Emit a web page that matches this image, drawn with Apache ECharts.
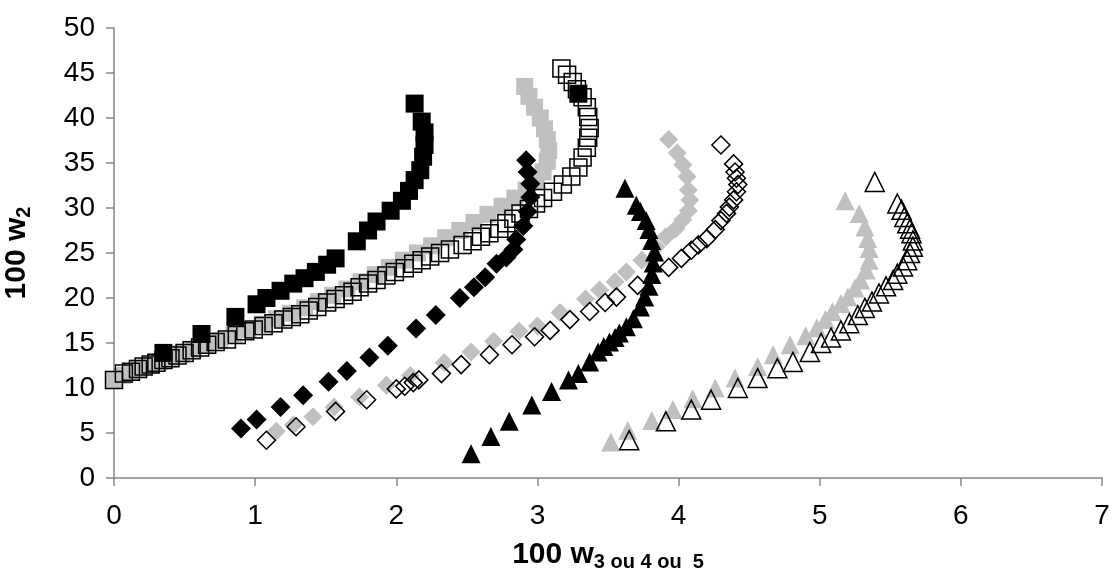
<!DOCTYPE html>
<html>
<head>
<meta charset="utf-8">
<title>100 w2 vs 100 w3/4/5</title>
<script src="https://cdn.jsdelivr.net/npm/echarts@6/dist/echarts.min.js"></script>
<style>
  html, body { margin: 0; padding: 0; background: #ffffff; }
  #chart { width: 1111px; height: 581px; }
</style>
</head>
<body>
<div id="chart"></div>
<script>
// Axis ticks
const xTicks = { min: 0, max: 7, step: 1 };
const yTicks = { min: 0, max: 50, step: 5 };

// Squares
const blackSquares = [
  [0.35,13.9],[0.62,16.0],[0.86,17.9],[1.01,19.3],[1.08,20.0],[1.18,20.8],[1.27,21.6],
  [1.35,22.2],[1.43,22.9],[1.51,23.7],[1.57,24.4],[1.72,26.3],[1.80,27.5],[1.86,28.5],
  [1.96,29.7],[2.04,30.8],[2.09,31.9],[2.13,33.1],[2.17,34.2],[2.19,35.7],[2.20,37.0],
  [2.20,38.4],[2.18,39.6],[2.13,41.6],[3.29,42.7]
];
const greySquares = [
  [0.00,10.9],[0.06,11.4],[0.12,11.8],[0.18,12.2],[0.25,12.5],[0.32,12.9],[0.40,13.3],
  [0.48,13.8],[0.56,14.3],[0.65,14.8],[0.75,15.3],[0.85,15.9],[0.95,16.5],[1.05,17.1],
  [1.15,17.7],[1.25,18.3],[1.35,18.9],[1.45,19.6],[1.55,20.3],[1.65,21.0],[1.75,21.8],
  [1.85,22.6],[1.95,23.4],[2.05,24.2],[2.15,25.0],[2.25,25.8],[2.35,26.7],[2.45,27.5],
  [2.55,28.4],[2.65,29.3],[2.75,30.2],[2.84,31.1],[2.92,32.0],[2.99,32.9],[3.04,34.0],
  [3.07,35.2],[3.08,36.4],[3.07,37.6],[3.05,38.8],[3.02,40.0],[2.98,41.2],[2.94,42.4],
  [2.91,43.5]
];
const openSquares = [
  [0.00,10.9],[0.07,11.6],[0.12,11.8],[0.17,12.1],[0.21,12.4],[0.26,12.6],[0.30,12.8],
  [0.35,13.1],[0.40,13.3],[0.45,13.6],[0.50,13.9],[0.55,14.2],[0.61,14.5],[0.66,14.8],
  [0.72,15.1],[0.80,15.4],[0.87,15.9],[0.93,16.3],[0.99,16.5],[1.06,16.9],[1.13,17.2],
  [1.20,17.6],[1.26,17.9],[1.32,18.2],[1.38,18.6],[1.44,19.0],[1.51,19.5],[1.57,19.9],
  [1.63,20.3],[1.69,20.7],[1.74,21.2],[1.80,21.6],[1.86,22.0],[1.93,22.5],[1.99,22.9],
  [2.06,23.3],[2.12,23.8],[2.18,24.2],[2.24,24.6],[2.31,25.0],[2.38,25.4],[2.47,25.9],
  [2.54,26.3],[2.60,26.8],[2.66,27.2],[2.73,27.7],[2.78,28.3],[2.83,28.8],[2.88,29.4],
  [2.94,29.9],[2.99,30.5],[3.04,31.1],[3.11,31.8],[3.18,32.6],[3.24,33.5],[3.29,34.5],
  [3.32,35.6],[3.35,36.7],[3.36,37.8],[3.37,38.9],[3.36,40.1],[3.35,41.2],[3.32,42.3],
  [3.28,43.2],[3.25,44.0],[3.21,44.8],[3.17,45.5]
];

// Diamonds
const blackDiamonds = [
  [0.90,5.5],[1.01,6.5],[1.18,7.9],[1.34,9.2],[1.52,10.7],[1.65,11.9],[1.81,13.4],
  [1.94,14.7],[2.14,16.6],[2.28,18.1],[2.45,20.0],[2.55,21.2],[2.63,22.3],[2.71,23.8],
  [2.78,24.5],[2.83,25.4],[2.85,26.5],[2.90,28.0],[2.93,29.6],[2.95,31.2],[2.95,32.7],
  [2.93,34.0],[2.92,35.3]
];
const greyDiamonds = [
  [1.15,5.2],[1.27,5.9],[1.41,6.8],[1.56,7.9],[1.74,9.0],[1.93,10.3],[2.10,11.4],
  [2.34,12.8],[2.53,14.0],[2.69,15.2],[2.87,16.3],[3.00,16.9],[3.16,18.4],[3.34,19.9],
  [3.44,20.9],[3.55,21.8],[3.63,22.9],[3.74,24.2],[3.84,25.7],[3.91,26.8],[3.98,27.7],
  [4.03,28.7],[4.07,29.7],[4.08,30.9],[4.07,32.0],[4.06,33.5],[4.03,34.8],[3.99,36.1],
  [3.93,37.6]
];
const openDiamonds = [
  [1.08,4.2],[1.29,5.7],[1.57,7.4],[1.79,8.7],[2.00,9.9],[2.06,10.2],[2.12,10.6],
  [2.16,10.9],[2.32,11.6],[2.46,12.6],[2.66,13.7],[2.82,14.8],[2.98,15.7],[3.09,16.4],
  [3.23,17.6],[3.37,18.5],[3.48,19.5],[3.56,20.1],[3.71,21.4],[3.93,23.4],[4.02,24.4],
  [4.09,25.3],[4.14,25.9],[4.20,26.6],[4.26,27.6],[4.30,28.6],[4.34,29.4],[4.36,30.1],
  [4.39,30.9],[4.41,31.8],[4.42,32.6],[4.41,33.3],[4.40,34.0],[4.39,34.9],[4.30,37.0]
];

// Triangles
const blackTriangles = [
  [2.53,2.7],[2.67,4.6],[2.80,6.3],[2.96,8.1],[3.10,9.6],[3.22,10.9],[3.29,11.6],
  [3.37,12.9],[3.43,14.0],[3.47,14.6],[3.51,15.1],[3.55,15.6],[3.58,16.1],[3.63,16.8],
  [3.68,17.7],[3.73,19.0],[3.76,20.1],[3.79,21.3],[3.81,22.6],[3.82,23.9],[3.83,25.1],
  [3.81,26.4],[3.79,27.6],[3.77,28.6],[3.73,29.6],[3.70,30.3],[3.62,32.2]
];
const greyTriangles = [
  [3.52,4.0],[3.64,5.3],[3.81,6.4],[3.96,7.6],[4.10,8.8],[4.26,10.0],[4.40,11.1],
  [4.56,12.4],[4.67,13.7],[4.79,14.8],[4.90,15.8],[4.98,16.7],[5.04,17.6],[5.09,18.5],
  [5.15,19.4],[5.20,20.1],[5.25,21.1],[5.29,22.0],[5.33,23.1],[5.35,24.2],[5.35,25.5],
  [5.34,26.6],[5.32,27.9],[5.28,29.4],[5.18,30.8]
];
const openTriangles = [
  [3.65,4.2],[3.91,6.3],[4.09,7.6],[4.23,8.7],[4.42,10.0],[4.56,11.1],[4.70,12.2],
  [4.81,12.9],[4.93,14.0],[5.01,15.0],[5.08,15.6],[5.15,16.4],[5.21,17.2],[5.27,18.1],
  [5.32,18.9],[5.37,19.6],[5.42,20.5],[5.47,21.3],[5.52,22.0],[5.55,22.7],[5.59,23.5],
  [5.62,24.2],[5.64,25.0],[5.66,25.7],[5.66,26.4],[5.65,27.2],[5.64,27.7],[5.62,28.3],
  [5.60,29.0],[5.58,29.8],[5.55,30.5],[5.39,32.9]
];

const BLACK = '#000000';
const GREY = '#c0c0c0';
const AXIS = '#868686';
const FONT = '"Liberation Sans", Arial, sans-serif';

function filled(name, data, symbol, size, color, z) {
  return {
    name, type: 'scatter', data, symbol, symbolSize: size, z,
    itemStyle: { color, borderWidth: 0, opacity: 1 },
    emphasis: { disabled: true }, silent: true
  };
}
function hollow(name, data, symbol, size, z) {
  return {
    name, type: 'scatter', data, symbol, symbolSize: size, z,
    itemStyle: { color: 'rgba(0,0,0,0)', borderColor: BLACK, borderWidth: 1.5, opacity: 1 },
    emphasis: { disabled: true }, silent: true
  };
}

// Bold title with a bold subscript tail
const titleRich = {
  m: { fontFamily: FONT, fontWeight: 'bold', fontSize: 30, color: '#000', verticalAlign: 'top', lineHeight: 32 },
  s: { fontFamily: FONT, fontWeight: 'bold', fontSize: 20, color: '#000', verticalAlign: 'bottom', lineHeight: 20, padding: [17, 0, 0, 0] }
};

const chart = echarts.init(document.getElementById('chart'), null, { renderer: 'canvas' });
chart.setOption({
  animation: false,
  backgroundColor: '#ffffff',
  grid: { left: 114, top: 28, right: 9, bottom: 103, containLabel: false, outerBoundsMode: 'none' },
  xAxis: {
    type: 'value', min: xTicks.min, max: xTicks.max, interval: xTicks.step,
    axisLine: { lineStyle: { color: AXIS, width: 1.5 } },
    axisTick: { show: true, length: 8, inside: false, lineStyle: { color: AXIS, width: 1.5 } },
    splitLine: { show: false },
    axisLabel: { color: '#000', fontFamily: FONT, fontSize: 28, margin: 24 },
    name: '{m|100 w}{s|3 ou 4 ou  5}',
    nameLocation: 'middle', nameGap: 62,
    nameTextStyle: { rich: titleRich }
  },
  yAxis: {
    type: 'value', min: yTicks.min, max: yTicks.max, interval: yTicks.step,
    axisLine: { lineStyle: { color: AXIS, width: 1.5 } },
    axisTick: { show: true, length: 8, inside: false, lineStyle: { color: AXIS, width: 1.5 } },
    splitLine: { show: false },
    axisLabel: { color: '#000', fontFamily: FONT, fontSize: 28, margin: 19 },
    name: '{m|100 w}{s|2}',
    nameLocation: 'middle', nameGap: 80, nameRotate: 90,
    nameTextStyle: { rich: titleRich }
  },
  series: [
    filled('greySquares', greySquares, 'rect', 17, GREY, 2),
    hollow('openSquares', openSquares, 'rect', 17, 3),
    filled('blackSquares', blackSquares, 'rect', 18, BLACK, 4),
    filled('greyDiamonds', greyDiamonds, 'diamond', 19, GREY, 5),
    hollow('openDiamonds', openDiamonds, 'diamond', 18, 6),
    filled('blackDiamonds', blackDiamonds, 'diamond', 20, BLACK, 7),
    filled('greyTriangles', greyTriangles, 'triangle', 19, GREY, 8),
    hollow('openTriangles', openTriangles, 'triangle', 19, 9),
    filled('blackTriangles', blackTriangles, 'triangle', 19, BLACK, 10)
  ]
});
</script>
</body>
</html>
